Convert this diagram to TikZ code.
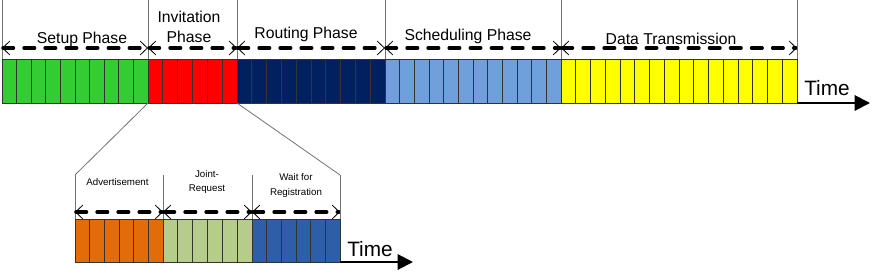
\documentclass[tikz,border=0pt]{standalone}
\usepackage{fontspec}
\setmainfont{Liberation Sans}
\usetikzlibrary{arrows.meta}
\definecolor{setupgreen}{RGB}{51,204,51}
\definecolor{invitered}{RGB}{255,0,0}
\definecolor{routenavy}{RGB}{0,32,96}
\definecolor{schedblue}{RGB}{112,160,220}
\definecolor{datayellow}{RGB}{255,255,0}
\definecolor{advorange}{RGB}{226,107,10}
\definecolor{joingreen}{RGB}{181,204,138}
\definecolor{waitblue}{RGB}{46,94,168}
\begin{document}
\begin{tikzpicture}[x=0.75pt,y=-0.75pt,>=latex,
    slot/.style={draw=black!80, line width=0.75pt},
    border/.style={draw=black!55, line width=0.6pt},
    span/.style={line width=2.6pt, line cap=round, dash pattern=on 7.9pt off 7.9pt,
      {Straight Barb[length=5.5pt,width=10.5pt,line width=0.6pt]}-{Straight Barb[length=5.5pt,width=10.5pt,line width=0.6pt]}},
    timeline/.style={line width=1.5pt, -{Triangle[length=11.5pt,width=11.5pt]}},
    big/.style={font=\fontsize{11.8}{15}\selectfont, align=center},
    small/.style={font=\fontsize{7.3}{10.8}\selectfont, align=center},
    timelabel/.style={font=\fontsize{15.6}{18}\selectfont}]
\useasboundingbox (0,0) rectangle (872,273);

% main time line
\foreach \a/\b/\n/\c in {2/148/10/setupgreen, 148/237/6/invitered, 237/385/10/routenavy,
    385/561/12/schedblue, 561/797/16/datayellow}{
  \foreach \k in {1,...,\n}
    \draw[slot, fill=\c] ({\a+(\k-1)*(\b-\a)/\n},59) rectangle ({\a+\k*(\b-\a)/\n},103);
  \draw[border] (\a,0) -- (\a,59);
  \draw[span] (\a,48) -- (\b,48);
}
\draw[border] (797,0) -- (797,59);

\node[big] (setup) at (82,39) {Setup Phase};
\node[big] (invitation) at (189,27) {Invitation\\Phase};
\node[big] (routing) at (306,34) {Routing Phase};
\node[big] (scheduling) at (468,36) {Scheduling Phase};
\node[big] (data) at (671,39) {Data Transmission};

\coordinate (topstart) at (797,103);
\coordinate (topend) at (870,103);
\draw[timeline] (topstart) -- (topend);
\node[timelabel] (toptime) at (827,88) {Time};

% zoom into the invitation phase
\coordinate (invleft) at (148,103);
\coordinate (invright) at (237,103);
\coordinate (zoomleft) at (75,175);
\coordinate (zoomright) at (340,175);
\draw[border] (invleft) -- (zoomleft);
\draw[border] (invright) -- (zoomright);

\foreach \a/\b/\c in {75/163/advorange, 163/252/joingreen, 252/340/waitblue}{
  \foreach \k in {1,...,6}
    \draw[slot, fill=\c] ({\a+(\k-1)*(\b-\a)/6},219) rectangle ({\a+\k*(\b-\a)/6},262);
  \draw[border] (\a,175) -- (\a,219);
  \draw[span] (\a,212) -- (\b,212);
}
\draw[border] (340,175) -- (340,219);

\node[small] (advert) at (117.5,182) {Advertisement};
\node[small] (joint) at (207,182) {Joint-\\Request};
\node[small] (wait) at (296,185.5) {Wait for\\Registration};

\coordinate (lowstart) at (340,262);
\coordinate (lowend) at (413,262);
\draw[timeline] (lowstart) -- (lowend);
\node[timelabel] (lowtime) at (370,249.5) {Time};
\end{tikzpicture}
\end{document}
